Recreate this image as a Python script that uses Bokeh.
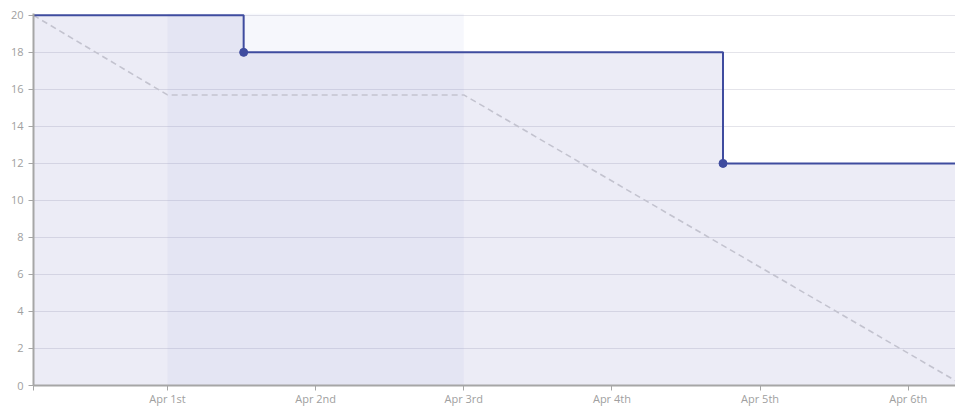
from datetime import datetime
from bokeh.plotting import figure
from bokeh.models import FixedTicker, Range1d, BoxAnnotation
from bokeh.embed import file_html
from bokeh.resources import INLINE

# ---- data ----
step_dates = ["2023-03-31 02:17", "2023-04-01 12:20", "2023-04-04 18:00", "2023-04-06 09:00"]
step_remaining = [20, 18, 12, 12]
change_dates = ["2023-04-01 12:20", "2023-04-04 18:00"]
change_values = [18, 12]
ideal_dates = ["2023-03-31 02:17", "2023-04-01 00:00", "2023-04-03 00:00", "2023-04-06 09:00"]
ideal_values = [20, 15.7, 15.7, 0.0]
nonwork_start = "2023-04-01 00:00"
nonwork_end = "2023-04-03 00:00"
tick_dates = ["2023-03-31 02:17", "2023-04-01", "2023-04-02", "2023-04-03", "2023-04-04", "2023-04-05", "2023-04-06"]
tick_labels = ["", "Apr 1st", "Apr 2nd", "Apr 3rd", "Apr 4th", "Apr 5th", "Apr 6th"]
y_ticks = [0, 2, 4, 6, 8, 10, 12, 14, 16, 18, 20]


def ts(s):
    return datetime.fromisoformat(s)


def ms(s):
    return ts(s).timestamp() * 1000.0


sx = [ts(s) for s in step_dates]
cx = [ts(s) for s in change_dates]
ix = [ts(s) for s in ideal_dates]

x_start = ms("2023-03-31 02:17")
x_end = ms("2023-04-06 07:40")

p = figure(width=955, height=408, x_axis_type="datetime",
           output_backend="svg", toolbar_location=None,
           x_range=Range1d(x_start, x_end), y_range=Range1d(0, 20.1),
           min_border_left=33, min_border_right=0, min_border_top=13, min_border_bottom=0)
p.outline_line_color = None
p.background_fill_color = "white"
p.border_fill_color = "white"

# area under the remaining-work step line
p.varea_step(x=sx, y1=[0] * len(sx), y2=step_remaining, step_mode="after",
             fill_color=(100, 100, 180), fill_alpha=0.125)

# non-working band
p.add_layout(BoxAnnotation(left=ms(nonwork_start), right=ms(nonwork_end),
                           fill_color=(140, 150, 215), fill_alpha=0.08,
                           line_color=None, level="underlay"))

# ideal line
p.line(ix, ideal_values, line_color="#c3c3cf", line_width=1.6, line_dash="6 4")

# remaining step line
p.step(sx, step_remaining, mode="after", line_color="#3f4c9f", line_width=2)
p.scatter(cx, change_values, size=8, fill_color="#3f4c9f", line_color="#3f4c9f")

# grid
p.xgrid.grid_line_color = None
p.ygrid.grid_line_color = "#e4e4ea"
p.ygrid.ticker = FixedTicker(ticks=y_ticks)

# axes
for ax in (p.xaxis[0], p.yaxis[0]):
    ax.axis_line_color = "#a6a6a6"
    ax.axis_line_width = 2
    ax.major_tick_line_color = "#a6a6a6"
    ax.major_tick_in = 0
    ax.major_tick_out = 5
    ax.minor_tick_line_color = None
    ax.major_label_text_color = "#a0a0a0"
    ax.major_label_text_font = "Open Sans"
    ax.major_label_text_font_size = "11px"

p.yaxis.ticker = FixedTicker(ticks=y_ticks)
p.yaxis.major_label_standoff = 5

tick_ms = [ms(s) for s in tick_dates]
p.xaxis.ticker = FixedTicker(ticks=tick_ms)
p.xaxis.major_label_overrides = {t: l for t, l in zip(tick_ms, tick_labels)}
p.xaxis.major_label_standoff = 0

open("out.html", "w").write(file_html(p, INLINE))
